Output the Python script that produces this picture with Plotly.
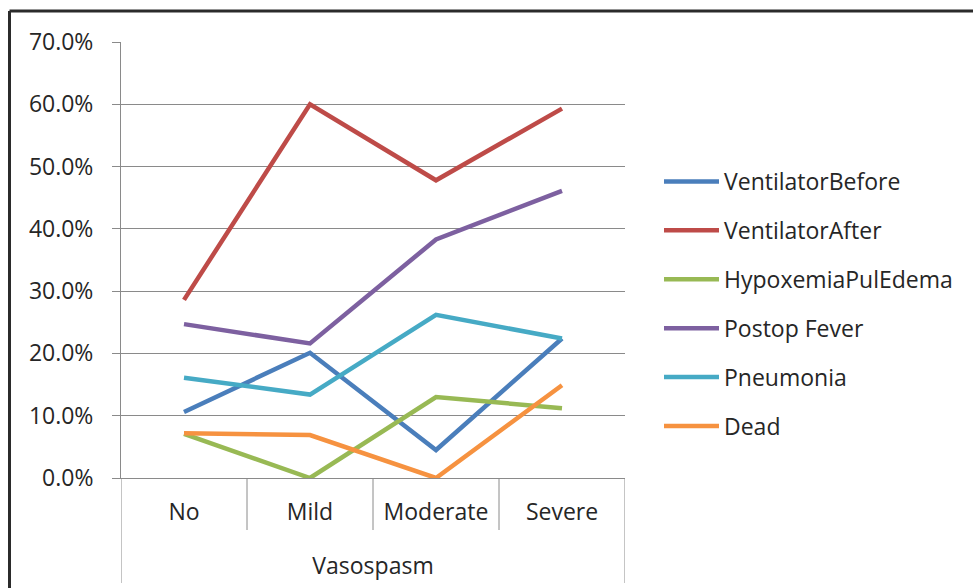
import plotly.graph_objects as go

# Vasospasm severity groups and complication rates (fractions)
categories = ["No", "Mild", "Moderate", "Severe"]
group_title = "Vasospasm"

ventilator_before = [0.106, 0.201, 0.045, 0.224]
ventilator_after = [0.286, 0.600, 0.478, 0.593]
hypoxemia_pul_edema = [0.071, 0.000, 0.130, 0.112]
postop_fever = [0.247, 0.216, 0.383, 0.461]
pneumonia = [0.161, 0.134, 0.262, 0.224]
dead = [0.072, 0.069, 0.000, 0.149]

series_names = ["VentilatorBefore", "VentilatorAfter", "HypoxemiaPulEdema",
                "Postop Fever", "Pneumonia", "Dead"]
series_values = [ventilator_before, ventilator_after, hypoxemia_pul_edema,
                 postop_fever, pneumonia, dead]
series_colors = ["#4A7EBB", "#BE4B48", "#98B954", "#7D60A0", "#46AAC5", "#F69240"]

y_ticks = [0.0, 0.1, 0.2, 0.3, 0.4, 0.5, 0.6, 0.7]

FONT = "Open Sans"
FSIZE = 23
TEXT = "#262626"
GRID = "#8a8a8a"

fig = go.Figure()
for name, vals, col in zip(series_names, series_values, series_colors):
    fig.add_trace(go.Scatter(
        x=categories, y=vals, name=name, mode="lines",
        line=dict(color=col, width=4.5), legendgroup=name,
    ))

# plot area in pixels: x 121..625, y 42..478
W, H = 973, 588
L, R, T, B = 121, 625, 42, 478
pw, ph = R - L, B - T

def px_x(px):
    return (px - L) / pw

def px_y(py):
    return (B - py) / ph

shapes = []
# category boundary lines below the axis
for xb in [0.5, 1.5, 2.5]:
    shapes.append(dict(type="line", xref="x", yref="paper", x0=xb, x1=xb,
                       y0=0, y1=px_y(530), line=dict(color=GRID, width=1)))
# outer group boundaries spanning both label rows
for xb in [-0.5, 3.5]:
    shapes.append(dict(type="line", xref="x", yref="paper", x0=xb, x1=xb,
                       y0=0, y1=px_y(583), line=dict(color=GRID, width=1)))
# frame around the chart
shapes.append(dict(type="line", xref="paper", yref="paper",
                   x0=px_x(9.5), x1=px_x(W + 5), y0=px_y(11), y1=px_y(11),
                   line=dict(color="#2b2b2b", width=3)))
shapes.append(dict(type="line", xref="paper", yref="paper",
                   x0=px_x(9.5), x1=px_x(9.5), y0=px_y(11), y1=px_y(H + 5),
                   line=dict(color="#2b2b2b", width=3)))

fig.update_layout(
    width=W, height=H,
    margin=dict(l=L, r=W - R, t=T, b=H - B, pad=0),
    paper_bgcolor="white", plot_bgcolor="white",
    font=dict(family=FONT, size=FSIZE, color=TEXT),
    shapes=shapes,
    showlegend=True,
    legend=dict(
        x=px_x(659), xanchor="left", y=px_y(160), yanchor="top",
        font=dict(family=FONT, size=FSIZE, color=TEXT),
        tracegroupgap=16, itemwidth=55, bgcolor="rgba(0,0,0,0)",
    ),
    xaxis=dict(
        type="category", range=[-0.5, 3.5],
        showgrid=False, zeroline=False,
        showline=True, linecolor=GRID, linewidth=1,
        ticks="", ticklabelstandoff=13,
        tickfont=dict(family=FONT, size=FSIZE, color=TEXT),
        title=dict(text=group_title, standoff=32,
                   font=dict(family=FONT, size=FSIZE, color=TEXT)),
        automargin=False, fixedrange=True,
    ),
    yaxis=dict(
        range=[0, 0.7], tickvals=y_ticks, tickformat=".1%",
        showgrid=True, gridcolor=GRID, gridwidth=1,
        zeroline=False, showline=True, linecolor=GRID, linewidth=1,
        ticks="outside", ticklen=8, tickcolor=GRID,
        tickfont=dict(family=FONT, size=FSIZE, color=TEXT),
        ticklabelstandoff=14,
        automargin=False, fixedrange=True,
    ),
)

fig.write_html("out.html")
